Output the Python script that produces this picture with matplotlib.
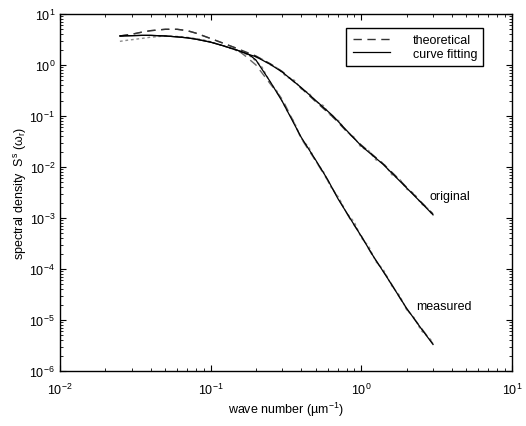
import numpy as np
import matplotlib
matplotlib.use("Agg")
from matplotlib import pyplot as plt
from matplotlib.ticker import FixedLocator, NullFormatter

plt.rcParams['font.family'] = ['Liberation Sans', 'DejaVu Sans']
plt.rcParams['mathtext.fontset'] = 'custom'
plt.rcParams['mathtext.rm'] = 'Liberation Sans'
plt.rcParams['mathtext.it'] = 'Liberation Sans:italic'

# low frequency part, shared by both branches
x_low = [0.025, 0.03, 0.035, 0.04, 0.05, 0.06, 0.07, 0.08, 0.1, 0.12, 0.15]
fit_low = [3.7, 3.75, 3.8, 3.8, 3.7, 3.55, 3.4, 3.2, 2.8, 2.4, 1.95]
theo_low = [3.7, 4.0, 4.4, 4.7, 5.0, 5.0, 4.7, 4.2, 3.3, 2.7, 2.1]

# original branch
x_orig = [0.18, 0.2, 0.25, 0.3, 0.4, 0.5, 0.65, 0.8, 1.0, 1.2, 1.4, 1.7, 2.0, 2.5, 3.0]
fit_orig = [1.6, 1.45, 1.02, 0.72, 0.36, 0.2, 0.1, 0.052, 0.026, 0.0165, 0.0112,
            6.3e-3, 3.9e-3, 2.0e-3, 1.15e-3]
theo_orig = [1.7, 1.5, 1.05, 0.74, 0.35, 0.19, 0.095, 0.05, 0.027, 0.017, 0.0115,
             6.6e-3, 4.0e-3, 2.05e-3, 1.2e-3]

# measured branch
x_meas = [0.18, 0.2, 0.25, 0.3, 0.35, 0.4, 0.5, 0.6, 0.7, 0.85, 1.0, 1.2, 1.5, 2.0, 2.5, 3.0]
fit_meas = [1.6, 1.25, 0.46, 0.19, 0.08, 0.038, 0.0135, 5.6e-3, 2.4e-3, 9.5e-4,
            4.4e-4, 1.8e-4, 6.5e-5, 1.7e-5, 6.8e-6, 3.3e-6]
x_theo_meas = [0.15, 0.17, 0.2, 0.25, 0.3, 0.35, 0.4, 0.5, 0.6, 0.7, 0.85, 1.0,
               1.2, 1.5, 2.0, 2.5, 3.0]
theo_meas = [2.0, 1.5, 1.0, 0.42, 0.21, 0.085, 0.036, 0.013, 5.4e-3, 2.5e-3, 9.2e-4,
             4.5e-4, 1.75e-4, 6.7e-5, 1.65e-5, 7.0e-6, 3.4e-6]

# measured data (noisy)
x_data_low = [0.025, 0.028, 0.032, 0.036, 0.04, 0.045, 0.05, 0.056, 0.063, 0.071,
              0.08, 0.09, 0.1, 0.11, 0.125, 0.14, 0.16]
data_low = [2.9, 3.05, 3.2, 3.35, 3.5, 3.6, 3.7, 3.65, 3.6, 3.45, 3.3, 3.1, 2.85,
            2.6, 2.3, 2.05, 1.75]
x_data_orig = [0.18, 0.2, 0.22, 0.25, 0.28, 0.32, 0.36, 0.4, 0.45, 0.5, 0.56, 0.63,
               0.71, 0.8, 0.9, 1.0, 1.12, 1.25, 1.4, 1.6, 1.8, 2.0, 2.25, 2.5, 2.8, 3.0]
data_orig = [1.55, 1.42, 1.3, 1.0, 0.86, 0.58, 0.5, 0.34, 0.28, 0.19, 0.16, 0.1,
             0.08, 0.049, 0.038, 0.024, 0.021, 0.0138, 0.012, 7.0e-3, 5.8e-3, 3.7e-3,
             3.0e-3, 1.9e-3, 1.5e-3, 1.1e-3]
x_data_meas = [0.18, 0.2, 0.22, 0.25, 0.28, 0.32, 0.36, 0.4, 0.45, 0.5, 0.56, 0.63,
               0.71, 0.8, 0.9, 1.0, 1.12, 1.25, 1.4, 1.6, 1.8, 2.0, 2.25, 2.5, 2.8, 3.0]
data_meas = [1.55, 1.2, 0.9, 0.44, 0.29, 0.13, 0.075, 0.036, 0.024, 0.0128, 8.2e-3,
             4.0e-3, 2.5e-3, 1.25e-3, 8.3e-4, 4.1e-4, 2.8e-4, 1.4e-4, 9.8e-5, 4.6e-5,
             3.0e-5, 1.6e-5, 1.1e-5, 6.2e-6, 4.6e-6, 3.6e-6]

x_exps = [-2, -1, 0, 1]
y_exps = [-6, -5, -4, -3, -2, -1, 0, 1]

fig = plt.figure(figsize=(5.26, 4.27), dpi=100)
ax = fig.add_axes([0.114, 0.129, 0.859, 0.836])

grey = '#8c8c8c'
ax.plot(x_data_low + x_data_orig, data_low + data_orig, color=grey, lw=1, ls=(0, (2, 2)))
ax.plot(x_data_meas, data_meas, color=grey, lw=1, ls=(0, (2, 2)))
ax.plot(x_low + x_theo_meas, theo_low + theo_meas, color='#666666', lw=1, ls=(0, (6, 4)))
ax.plot(x_low + x_orig, theo_low + theo_orig, color='#333333', lw=1, ls=(0, (6, 4)),
        label='theoretical')
ax.plot(x_low + x_meas, fit_low + fit_meas, color='black', lw=0.9)
ax.plot(x_low + x_orig, fit_low + fit_orig, color='black', lw=0.9, label='curve fitting')

ax.set_xscale('log')
ax.set_yscale('log')
ax.set_xlim(1e-2, 1e1)
ax.set_ylim(1e-6, 1e1)

ax.set_xticks([10.0 ** e for e in x_exps])
ax.set_xticklabels(['$10^{%d}$' % e for e in x_exps])
ax.set_yticks([10.0 ** e for e in y_exps])
ax.set_yticklabels(['$10^{%d}$' % e for e in y_exps])
for axis, exps in ((ax.xaxis, x_exps), (ax.yaxis, y_exps)):
    minors = [m * 10.0 ** e for e in exps[:-1] for m in range(2, 10)]
    axis.set_minor_locator(FixedLocator(minors))
    axis.set_minor_formatter(NullFormatter())
ax.tick_params(which='both', direction='in', top=True, right=True, labelsize=9)
ax.tick_params(which='major', length=4)
ax.tick_params(which='minor', length=2)
ax.tick_params(axis='x', pad=8)
for s in ax.spines.values():
    s.set_linewidth(1)

ax.text(2.86, 2.7e-3, 'original', fontsize=9, va='center')
ax.text(2.31, 1.9e-5, 'measured', fontsize=9, va='center')

ax.set_xlabel('wave number (\u00b5m$^{-1}$)', fontsize=9, labelpad=2)
ax.set_ylabel('spectral density  S$^{\\rm s}$ (\u03c9$_{\\rm r}$)', fontsize=9, labelpad=0)

leg = ax.legend(loc='upper right', bbox_to_anchor=(0.951, 0.978), fontsize=9,
                fancybox=False, framealpha=1, edgecolor='black', handlelength=3,
                handletextpad=1.8, borderpad=0.5, labelspacing=0.1)
leg.get_frame().set_linewidth(1)

fig.savefig('out.png', dpi=100)
